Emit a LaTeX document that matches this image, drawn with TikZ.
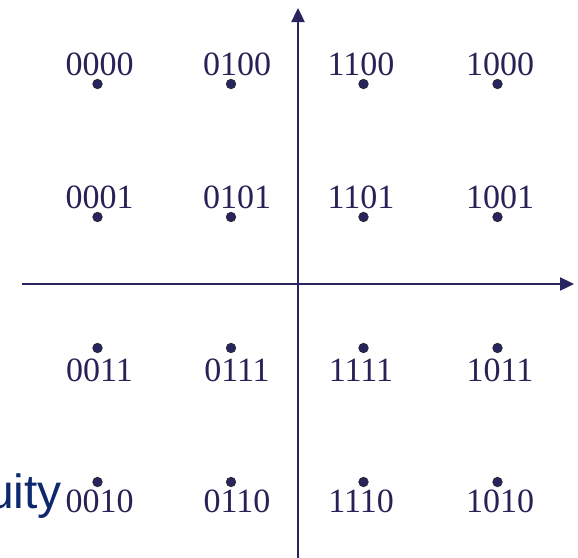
\documentclass[tikz,border=0pt]{standalone}
\usepackage{fontspec}
\newfontfamily\arialfont{Liberation Sans}
\newfontfamily\digitfont{Liberation Serif}
\usetikzlibrary{arrows.meta}
\definecolor{navy}{RGB}{40,36,96}
\definecolor{txt}{RGB}{38,34,86}
\definecolor{blu}{RGB}{14,40,110}
\tikzset{
  axis/.style={draw=navy, line width=2.4pt, -{Triangle[length=14pt,width=13pt]}},
  dot/.style={circle, fill=navy, draw=black!85, line width=0.7pt, inner sep=0pt, minimum size=9.5pt},
  lbl/.style={text=txt, font=\digitfont\fontsize{34}{38}\selectfont, inner sep=0pt, anchor=center}
}
\begin{document}
\begin{tikzpicture}[x=1pt,y=-1pt]
\useasboundingbox (0,0) rectangle (578,557);
% axes
\coordinate (xs) at (22,284);
\coordinate (xe) at (574,284);
\coordinate (ys) at (298,560);
\coordinate (ye) at (298,8);
\draw[axis] (xs) -- (xe);
\draw[axis] (ys) -- (ye);
% dots
\foreach \c/\x in {0/97.5,1/231,2/363.5,3/497.5}{
  \foreach \r/\y in {0/84,1/217,2/348,3/482}{
    \node[dot] (d\c\r) at (\x,\y) {};
  }
}
% labels row 1 (above)
\node[lbl] (l00) at (99.5,64) {0000};
\node[lbl] (l10) at (237,64) {0100};
\node[lbl] (l20) at (361,64) {1100};
\node[lbl] (l30) at (500,64) {1000};
% row 2
\node[lbl] (l01) at (99.5,197) {0001};
\node[lbl] (l11) at (237,197) {0101};
\node[lbl] (l21) at (361,197) {1101};
\node[lbl] (l31) at (500,197) {1001};
% row 3 (below)
\node[lbl] (l02) at (99.5,370) {0011};
\node[lbl] (l12) at (237,370) {0111};
\node[lbl] (l22) at (361,370) {1111};
\node[lbl] (l32) at (500,370) {1011};
% row 4
\node[lbl] (l03) at (99.5,501) {0010};
\node[lbl] (l13) at (237,501) {0110};
\node[lbl] (l23) at (361,501) {1110};
\node[lbl] (l33) at (500,501) {1010};
% text cut off at the left edge, as in the reference
\node[text=blu, font=\arialfont\fontsize{48}{50}\selectfont, inner sep=0pt, anchor=base east] (eq) at (62,508) {uity};
\end{tikzpicture}
\end{document}
